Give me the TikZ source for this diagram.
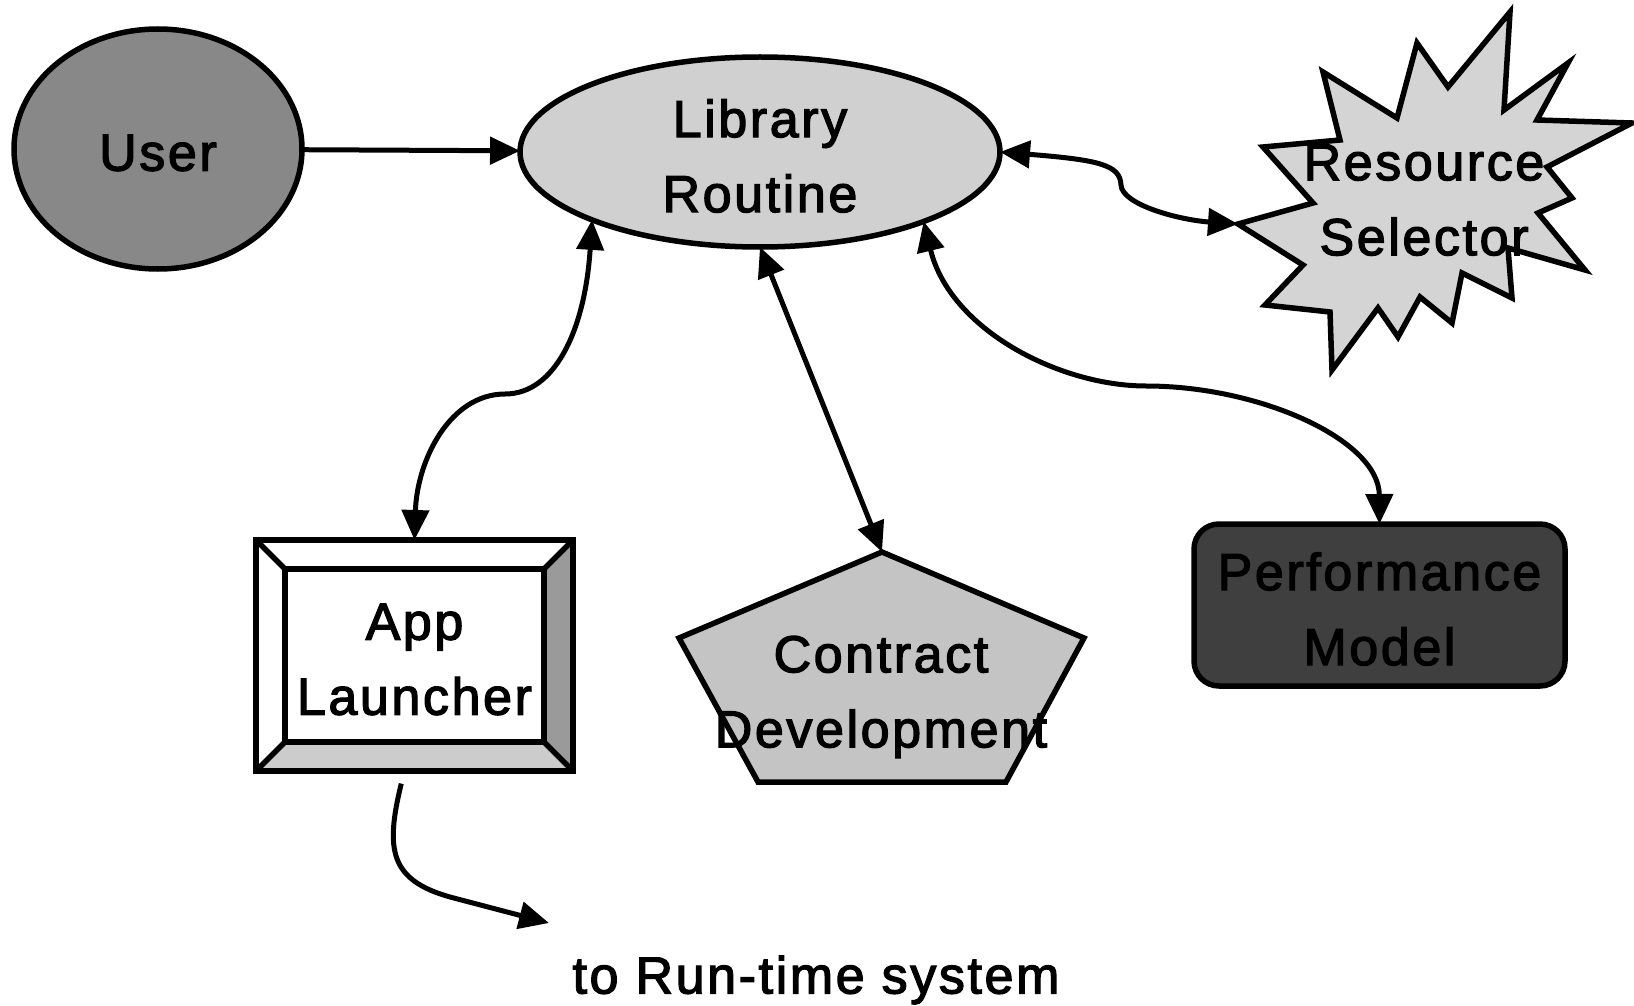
\documentclass[tikz,border=0pt]{standalone}
\usepackage{fontspec}
\setmainfont[LetterSpace=5,FakeBold=2.5]{Liberation Sans}
\usetikzlibrary{arrows.meta,shapes.geometric,calc}

\definecolor{userfill}{HTML}{888888}
\definecolor{libfill}{HTML}{D0D0D0}
\definecolor{starfill}{HTML}{D4D4D4}
\definecolor{penfill}{HTML}{C4C4C4}
\definecolor{perffill}{HTML}{3F3F3F}
\definecolor{bevelright}{HTML}{9A9A9A}
\definecolor{bevelbottom}{HTML}{CCCCCC}

\begin{document}
\begin{tikzpicture}[x=1pt,y=-1pt,
  lbl/.style={font=\fontsize{52}{75}\selectfont, align=center, text=black, inner sep=0pt, outer sep=0pt},
  txt/.style={lbl, yshift=-4pt},
  outline/.style={draw=black, line width=5.5pt},
  conn/.style={draw=black, line width=5pt},
  >={Triangle[length=30pt,width=27pt]},
]
\useasboundingbox (0,0) rectangle (1634,1006);

% User and library routine
\node[ellipse, outline, fill=userfill, minimum width=288pt, minimum height=240pt, lbl] (user) at (158,149) {};
\node[txt] (usertxt) at (user) {User};
\node[ellipse, outline, fill=libfill, minimum width=480pt, minimum height=190pt, lbl] (lib) at (760,152) {};
\node[txt] (libtxt) at (lib) {Library\\Routine};

% Resource selector burst
\draw[outline, fill=starfill]
  (1510,12) -- (1504,110) -- (1568,63) -- (1537,120) -- (1632,123) -- (1547,167)
  -- (1572,198) -- (1538,213) -- (1585,270) -- (1508,248) -- (1512,298) -- (1462,273)
  -- (1452,323) -- (1420,297) -- (1398,337) -- (1378,308) -- (1332,370) -- (1330,312)
  -- (1265,305) -- (1303,265) -- (1238,224) -- (1313,203) -- (1263,147) -- (1340,140)
  -- (1323,72) -- (1397,118) -- (1417,43) -- (1448,87) -- cycle;
\coordinate (restip) at (1238,224);
\node[lbl] (res) at (1424,200) {Resource\\Selector};

% App launcher with bevelled frame
\coordinate (aNW) at (256,540); \coordinate (aNE) at (573,540);
\coordinate (aSW) at (256,771); \coordinate (aSE) at (573,771);
\coordinate (iNW) at (285,569); \coordinate (iNE) at (544,569);
\coordinate (iSW) at (285,742); \coordinate (iSE) at (544,742);
\fill[white] (aNW) rectangle (aSE);
\fill[bevelright] (aNE) -- (aSE) -- (iSE) -- (iNE) -- cycle;
\fill[bevelbottom] (aSW) -- (aSE) -- (iSE) -- (iSW) -- cycle;
\draw[outline, line join=miter] (aNW) rectangle (aSE);
\draw[outline] (iNW) rectangle (iSE);
\draw[outline] (aNW) -- (iNW) (aNE) -- (iNE) (aSW) -- (iSW) (aSE) -- (iSE);
\node[rectangle, minimum width=317pt, minimum height=231pt, lbl] (app) at (414.5,655.5) {};
\node[txt] (apptxt) at (app) {App\\Launcher};

% Contract development pentagon
\coordinate (contop) at (882,552);
\draw[outline, fill=penfill] (contop) -- (1084,638) -- (1006,782) -- (758,782) -- (679,638) -- cycle;
\node[txt] (con) at (881,693) {Contract\\Development};

% Performance model
\node[rectangle, rounded corners=25pt, outline, fill=perffill, minimum width=371pt, minimum height=162pt, lbl] (perf) at (1379.5,605) {};
\node[txt] (perftxt) at (perf) {Performance\\Model};

% Connectors
\draw[conn, ->] (user) -- (lib);
\draw[conn, <->] (lib.east) .. controls (1100,160) and (1120,165) .. (1121,185)
  .. controls (1122,205) and (1180,220) .. (restip);
\draw[conn, <->] (lib.202) .. controls (585,330) and (555,394) .. (505,394)
  .. controls (450,394) and (417,460) .. (app.north);
\draw[conn, <->] (lib.south) -- (contop);
\draw[conn, <->] (lib.337) .. controls (950,330) and (1060,386) .. (1146,386)
  .. controls (1260,386) and (1379,440) .. (perf.north);

% Output to the run-time system
\coordinate (rtend) at (549,923);
\draw[conn, ->, shorten <=13pt] (app.-95) .. controls (385,850) and (390,880) .. (450,897) -- (rtend);
\node[txt] (rts) at (816,976) {to Run-time system};
\end{tikzpicture}
\end{document}
